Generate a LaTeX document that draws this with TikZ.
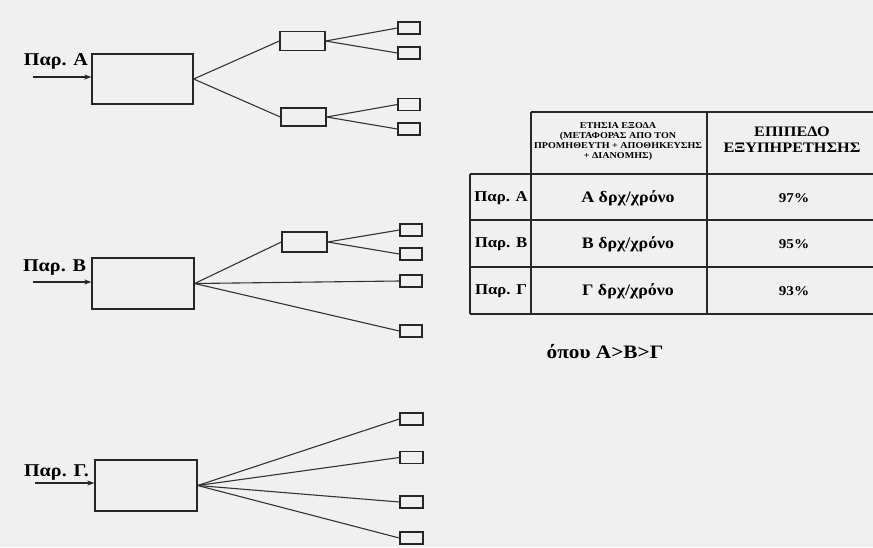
\documentclass[tikz,border=0pt]{standalone}
\usepackage{fontspec}
\setmainfont[FakeStretch=1.12]{Liberation Serif}
\usetikzlibrary{arrows.meta}
\tikzset{
    mainbox/.style={draw=black!85, line width=1.3pt, inner sep=0pt, minimum width=101pt, minimum height=50pt},
    midbox/.style={draw=black!85, line width=1.3pt, inner sep=0pt, minimum width=45pt, minimum height=19pt},
    leafbox/.style={draw=black!85, line width=1.3pt, inner sep=0pt, minimum width=22pt, minimum height=12pt},
    link/.style={draw=black!80, line width=1.1pt},
    feed/.style={draw=black!85, line width=1.2pt, -{Stealth[length=7pt,width=5pt]}},
    plabel/.style={font=\fontsize{18}{20}\selectfont\bfseries, inner sep=0pt, anchor=base},
    cell/.style={font=\fontsize{14.5}{16}\selectfont\bfseries, inner sep=0pt},
    grid/.style={draw=black!85, line width=1.2pt}
}
\begin{document}
\begin{tikzpicture}[x=1pt, y=-1pt]
    \fill[black!6] (0,0) rectangle (873,547);
    \useasboundingbox (0,0) rectangle (873,547);
    % Supplier A
        \node[mainbox] (mainA) at (142.5,79) {};
        \node[plabel] (labA) at (56,65) {Παρ. Α};
        \coordinate (inA) at (33,77);
        \draw[feed] (inA) -- (inA -| mainA.west);
        \node[midbox] (midA1) at (302.5,41) {};
        \node[midbox, minimum height=18pt] (midA2) at (303.5,117) {};
        \foreach \n/\y in {1/28,2/53,3/104.5,4/129}{
            \node[leafbox] (leafA\n) at (409,\y) {};
        }
        \draw[link] (mainA.east) -- (midA1.west);
        \draw[link] (mainA.east) -- (midA2.west);
        \draw[link] (midA1.east) -- (leafA1.west);
        \draw[link] (midA1.east) -- (leafA2.west);
        \draw[link] (midA2.east) -- (leafA3.west);
        \draw[link] (midA2.east) -- (leafA4.west);
    % Supplier B
        \node[mainbox, minimum width=102pt, minimum height=51pt] (mainB) at (143,283.5) {};
        \node[plabel] (labB) at (54.5,271) {Παρ. Β};
        \coordinate (inB) at (33,282);
        \draw[feed] (inB) -- (inB -| mainB.west);
        \node[midbox, minimum height=20pt] (midB) at (304.5,242) {};
        \foreach \n/\y in {1/230,2/254,3/281,4/331}{
            \node[leafbox] (leafB\n) at (411,\y) {};
        }
        \draw[link] (mainB.east) -- (midB.west);
        \draw[link] (mainB.east) -- (leafB3.west);
        \draw[link] (mainB.east) -- (leafB4.west);
        \draw[link] (midB.east) -- (leafB1.west);
        \draw[link] (midB.east) -- (leafB2.west);
    % Supplier G
        \node[mainbox, minimum width=102pt, minimum height=51pt] (mainG) at (146,485.5) {};
        \node[plabel] (labG) at (56.5,476) {Παρ. Γ.};
        \coordinate (inG) at (35,483);
        \draw[feed] (inG) -- (inG -| mainG.west);
        \foreach \n/\y in {1/419,2/457.5,3/502,4/538}{
            \node[leafbox, minimum width=23pt] (leafG\n) at (411.5,\y) {};
            \draw[link] (mainG.east) -- (leafG\n.west);
        }
    % Table
        \draw[grid] (531,112) -- (873,112);
        \foreach \y in {174,220,267,314}{
            \draw[grid] (470,\y) -- (873,\y);
        }
        \draw[grid] (531,112) -- (531,314);
        \draw[grid] (707,112) -- (707,314);
        \draw[grid] (470,174) -- (470,314);
    % Table texts
        \node[cell, font=\fontsize{9}{10}\selectfont\bfseries, align=center] (costhead) at (618,141)
            {ΕΤΗΣΙΑ ΕΞΟΔΑ\\(ΜΕΤΑΦΟΡΑΣ ΑΠΟ ΤΟΝ\\ΠΡΟΜΗΘΕΥΤΗ + ΑΠΟΘΗΚΕΥΣΗΣ\\+ ΔΙΑΝΟΜΗΣ)};
        \node[cell, align=center] (levelhead) at (792,140)
            {ΕΠΙΠΕΔΟ\\ΕΞΥΠΗΡΕΤΗΣΗΣ};
        \foreach \n/\y/\p/\v in {A/198/Α/97, B/244.5/Β/95, G/291/Γ/93}{
            \node[cell, font=\fontsize{15}{17}\selectfont\bfseries] (row\n) at (501,\y) {Παρ. \p};
            \node[cell, font=\fontsize{16}{18}\selectfont\bfseries] (cost\n) at (628,\y) {\p\ δρχ/χρόνο};
            \node[cell, font=\fontsize{13.5}{15}\selectfont\bfseries] (level\n) at (794,\y) {\v\%};
        }
        \node[cell, font=\fontsize{19}{21}\selectfont\bfseries] (where) at (605,352) {όπου Α>Β>Γ};
\end{tikzpicture}
\end{document}
